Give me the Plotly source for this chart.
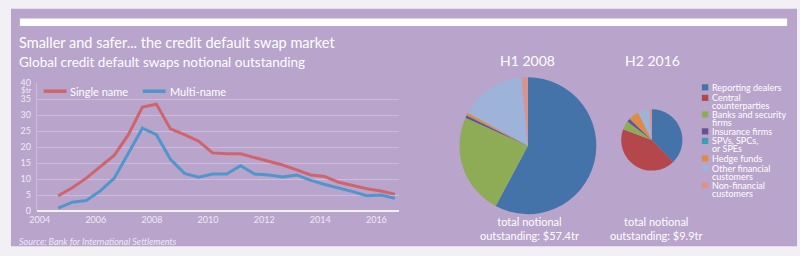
import plotly.graph_objects as go

W, H = 800, 256
def px(x): return x / W
def py(y): return 1 - y / H

# ---------------- data ----------------
periods = ["H2 2004", "H1 2005", "H2 2005", "H1 2006", "H2 2006", "H1 2007", "H2 2007",
           "H1 2008", "H2 2008", "H1 2009", "H2 2009", "H1 2010", "H2 2010", "H1 2011",
           "H2 2011", "H1 2012", "H2 2012", "H1 2013", "H2 2013", "H1 2014", "H2 2014",
           "H1 2015", "H2 2015", "H1 2016", "H2 2016"]
x_pos = [int(p[3:]) + (0.16 if p.startswith("H1") else 0.66) for p in periods]
single_name = [4.8, 7.3, 10.3, 13.8, 17.5, 23.9, 32.5, 33.4, 25.7, 23.9, 21.9, 18.2, 17.9,
               17.9, 16.7, 15.4, 14.4, 12.9, 11.3, 10.8, 9.0, 8.0, 7.0, 6.3, 5.3]
multi_name = [0.9, 2.8, 3.3, 6.3, 10.3, 18.2, 25.9, 23.9, 16.2, 11.8, 10.6, 11.6, 11.6,
              14.2, 11.6, 11.3, 10.7, 11.3, 9.6, 8.3, 7.3, 6.1, 4.8, 5.0, 4.0]
series_names = ["Single name", "Multi-name"]
x_ticks = [2004, 2006, 2008, 2010, 2012, 2014, 2016]
y_ticks = [0, 5, 10, 15, 20, 25, 30, 35, 40]

sectors = ["Reporting dealers", "Central counterparties", "Banks and security firms",
           "Insurance firms", "SPVs, SPCs, or SPEs", "Hedge funds",
           "Other financial customers", "Non-financial customers"]
legend_lines = [["Reporting dealers"], ["Central", "counterparties"],
                ["Banks and security", "firms"], ["Insurance firms"],
                ["SPVs, SPCs,", "or SPEs"], ["Hedge funds"],
                ["Other financial", "customers"], ["Non-financial", "customers"]]
share_h1_2008 = [57.8, 0.0, 23.9, 0.6, 0.1, 0.6, 15.5, 1.5]
share_h2_2016 = [37.7, 43.0, 4.6, 1.7, 0.3, 5.3, 6.0, 1.4]
pie_titles = ["H1 2008", "H2 2016"]
totals = ["$57.4tr", "$9.9tr"]

# ---------------- style ----------------
BG = "#b9a4cc"
TXT = "#ffffff"
LIGHT = "#f0eaf5"
GRID = "#cbbcdb"
RED = "#d0646c"
BLUE = "#4f96cb"
sector_colors = ["#4473a9", "#b3474b", "#8eab56", "#68518e", "#38a0b0",
                 "#e08a42", "#9db3da", "#d8938e"]
FONT = "Lato"

fig = go.Figure()

for name, vals, col in zip(series_names, [single_name, multi_name], [RED, BLUE]):
    fig.add_trace(go.Scatter(x=x_pos, y=vals, mode="lines", name=name,
                             line=dict(color=col, width=3), showlegend=False))

fig.add_trace(go.Pie(values=share_h1_2008, labels=sectors, sort=False, direction="clockwise",
                     rotation=0, textinfo="none", hoverinfo="label+percent",
                     marker=dict(colors=sector_colors, line=dict(width=0)),
                     domain=dict(x=[px(454), px(597)], y=[py(217.5), py(74.5)]),
                     showlegend=False))
fig.add_trace(go.Pie(values=share_h2_2016, labels=sectors, sort=False, direction="clockwise",
                     rotation=0, textinfo="none", hoverinfo="label+percent",
                     marker=dict(colors=sector_colors, line=dict(width=0)),
                     domain=dict(x=[px(618.5), px(682.5)], y=[py(172), py(108)]),
                     showlegend=False))

shapes = [
    dict(type="rect", xref="paper", yref="paper", x0=px(4), x1=px(797), y0=py(251), y1=py(3),
         fillcolor=BG, line=dict(width=0), layer="below"),
    dict(type="rect", xref="paper", yref="paper", x0=px(13), x1=px(787), y0=py(21), y1=py(13),
         fillcolor="#ffffff", line=dict(width=0), layer="below"),
]
annotations = [
    dict(text="Smaller and safer... the credit default swap market", x=px(10), y=py(38),
         xanchor="left", yanchor="middle", font=dict(size=14.5, color=TXT)),
    dict(text="Global credit default swaps notional outstanding", x=px(10), y=py(58),
         xanchor="left", yanchor="middle", font=dict(size=13.5, color=TXT)),
    dict(text="$tr", x=px(27), y=py(88), xanchor="right", yanchor="middle",
         font=dict(size=8, color=LIGHT)),
    dict(text="<i>Source: Bank for International Settlements</i>", x=px(10), y=py(246),
         xanchor="left", yanchor="middle", font=dict(size=9, color=LIGHT)),
]
# line legend
for name, col, lx0, tx in zip(series_names, [RED, BLUE], [37, 137], [62, 162]):
    shapes.append(dict(type="line", xref="paper", yref="paper", x0=px(lx0), x1=px(lx0 + 23),
                       y0=py(89), y1=py(89), line=dict(color=col, width=3.5)))
    annotations.append(dict(text=name, x=px(tx), y=py(89), xanchor="left", yanchor="middle",
                            font=dict(size=11, color=TXT)))
# pie titles and totals
for t, cx in zip(pie_titles, [525, 651]):
    annotations.append(dict(text=t, x=px(cx), y=py(57), xanchor="center", yanchor="middle",
                            font=dict(size=14, color=TXT)))
for tot, cx in zip(totals, [527, 655]):
    annotations.append(dict(text="total notional<br>outstanding: " + tot, x=px(cx), y=py(232.5),
                            xanchor="center", yanchor="middle", align="center",
                            font=dict(size=11, color=TXT)))
# pie legend
leg_y = [85, 96, 113.3, 131, 141, 159.3, 170, 187.3]
for lines, col, yy in zip(legend_lines, sector_colors, leg_y):
    shapes.append(dict(type="rect", xref="paper", yref="paper", x0=px(701), x1=px(707.5),
                       y0=py(yy + 3.2), y1=py(yy - 3.2), fillcolor=col, line=dict(width=0)))
    for k, ln in enumerate(lines):
        annotations.append(dict(text=ln, x=px(709), y=py(yy + k * 8.4), xanchor="left",
                                yanchor="middle", font=dict(size=9, color=TXT)))

for a in annotations:
    a.update(xref="paper", yref="paper", showarrow=False)

fig.update_layout(
    width=W, height=H, autosize=False, margin=dict(l=0, r=0, t=0, b=0),
    paper_bgcolor="#f2f0f4", plot_bgcolor="rgba(0,0,0,0)",
    font=dict(family=FONT, color=TXT),
    shapes=shapes, annotations=annotations,
    xaxis=dict(domain=[px(30), px(395)], range=[2003.894, 2016.79], tickvals=x_ticks,
               showgrid=False, zeroline=False, showline=False, ticks="",
               tickfont=dict(size=9, color=LIGHT), fixedrange=True,
               ticklabelstandoff=2),
    yaxis=dict(domain=[py(214.3), py(80.6)], range=[0, 40], tickvals=y_ticks,
               showgrid=True, gridcolor=GRID, gridwidth=1, zeroline=True,
               zerolinecolor="#f4f0f8", zerolinewidth=1.5, showline=True,
               linecolor=GRID, linewidth=1, ticks="",
               tickfont=dict(size=9, color=LIGHT), fixedrange=True,
               ticklabelstandoff=3),
)

fig.write_html("out.html")
